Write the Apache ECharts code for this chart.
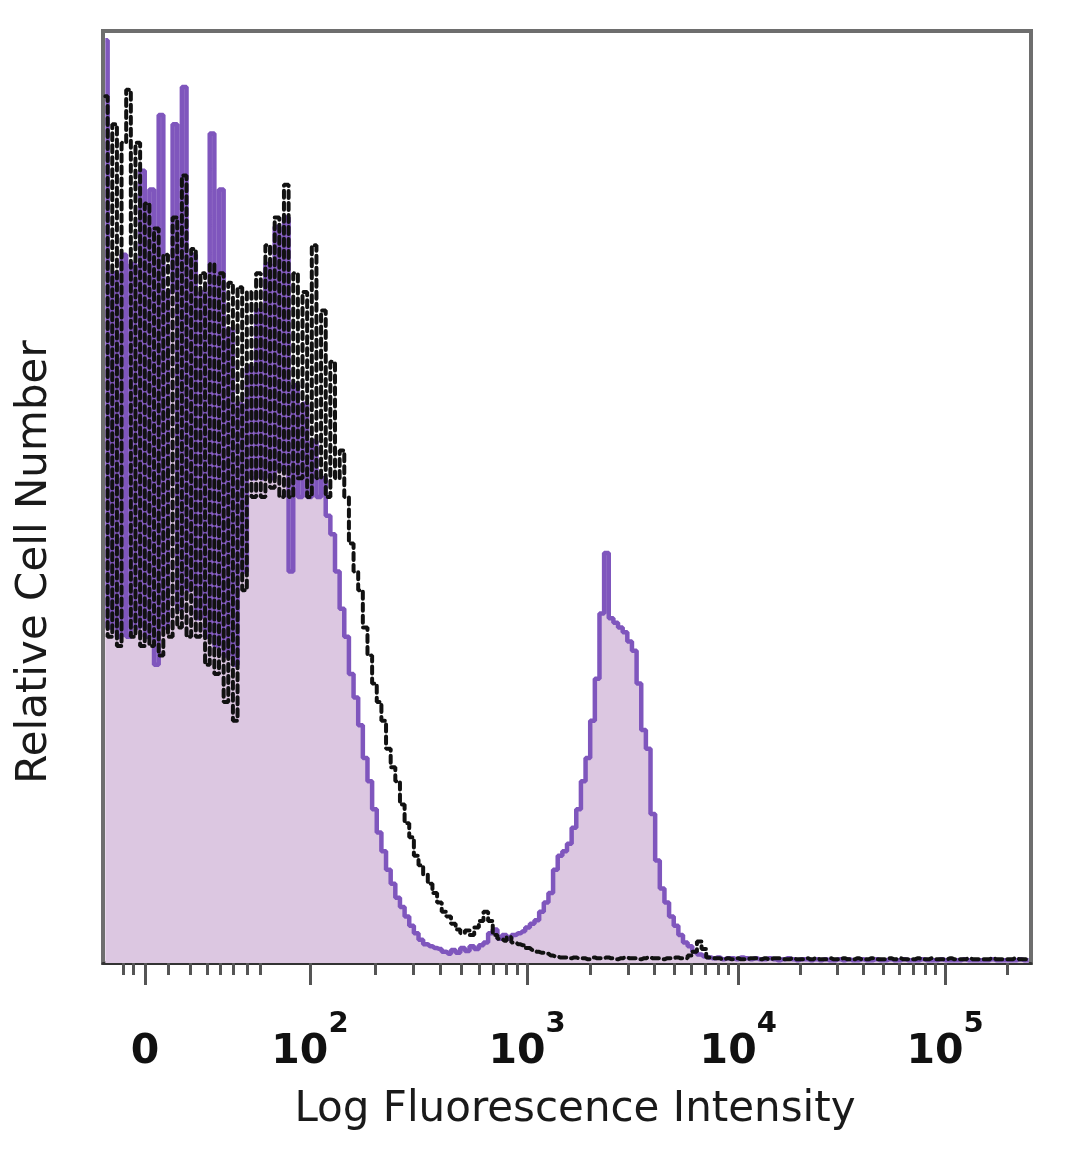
<!DOCTYPE html>
<html><head><meta charset="utf-8">
<script src="https://cdn.jsdelivr.net/npm/echarts@6/dist/echarts.min.js"></script>
<style>html,body{margin:0;padding:0;background:#fff}#c{width:1080px;height:1169px}</style>
</head><body><div id="c"></div>
<script>
// Histogram channels (display bins across the biexponential axis)
const binCount = 200;

// Stained sample (filled purple histogram), relative cell number per bin
const sampleCounts = [
  99,36,74,35,76,35,75,36,85,35,
  83,32,91,36,72,90,38,94,40,76,
  37,72,35,89,34,83,33,68,32,60,
  42,64,52,70,52,75,52,79,53,80,
  42,62,50,60,50,56,50,52,48,46,
  42,38,35,31,28.5,25.5,22,19.5,16.5,14,
  12,10,8.5,7,6,5,4,3.2,2.5,2,
  1.8,1.6,1.5,1.2,1.0,1.4,1.1,1.6,1.3,1.8,
  1.5,1.9,2.2,3.2,3.6,2.6,3.0,2.6,3.0,3.2,
  3.4,3.8,4.2,4.6,5.5,6.5,7.5,10,11.5,12,
  12.8,14.5,16.5,19.5,22,26,30.5,37.5,44,37,
  36.5,36,35.5,34.5,33.5,30,25,23,16,11,
  8,6.5,5,4,3,2.2,1.8,1.2,0.9,0.7,
  0.6,0.5,0.6,0.4,0.5,0.5,0.4,0.6,0.5,0.4,
  0.5,0.4,0.4,0.5,0.4,0.3,0.4,0.5,0.4,0.3,
  0.4,0.4,0.3,0.4,0.3,0.4,0.3,0.3,0.4,0.3,
  0.4,0.3,0.3,0.4,0.3,0.3,0.4,0.3,0.3,0.4,
  0.3,0.3,0.4,0.3,0.3,0.3,0.4,0.3,0.3,0.3,
  0.4,0.3,0.3,0.3,0.3,0.4,0.3,0.3,0.3,0.3,
  0.3,0.4,0.3,0.3,0.3,0.3,0.3,0.4,0.3,0.3
];

// Isotype control (black dashed histogram)
const controlCounts = [
  93,35,90,34,88,93.7,35,88,34,81.5,
  34,78.8,33,76,35,80,36,84.5,35,76.6,
  35,74,32,75,31,74,28,73,26,72.5,
  40,72,50,74,50,77,51,80,50,83.5,
  50,74,52,72,50,77,52,70,50,64.5,
  52,55,50,45,42,40,36,33,30,28,
  26,23,21,19.5,17,15,13.5,11.5,10.5,9.5,
  8.5,7.5,6.5,5.5,5,4.2,3.6,3.2,3.5,3.0,
  3.8,4.5,5.5,4.5,3.0,2.6,2.4,2.8,2.2,2,
  1.9,1.6,1.4,1.2,1.1,1.0,0.8,0.7,0.6,0.6,
  0.5,0.6,0.5,0.5,0.4,0.6,0.5,0.5,0.6,0.5,
  0.4,0.5,0.6,0.5,0.5,0.4,0.5,0.6,0.5,0.5,
  0.4,0.5,0.5,0.6,0.5,0.5,0.8,1.2,2.3,1.5,
  0.6,0.5,0.5,0.4,0.5,0.4,0.5,0.4,0.4,0.5,
  0.5,0.4,0.5,0.4,0.5,0.5,0.4,0.4,0.5,0.4,
  0.4,0.5,0.4,0.5,0.4,0.4,0.5,0.4,0.4,0.5,
  0.4,0.4,0.5,0.4,0.4,0.5,0.4,0.4,0.4,0.5,
  0.4,0.5,0.4,0.4,0.4,0.5,0.4,0.4,0.5,0.4,
  0.4,0.4,0.5,0.4,0.4,0.4,0.5,0.4,0.4,0.4,
  0.4,0.5,0.4,0.4,0.4,0.4,0.5,0.4,0.4,0.4
];

// Axis ticks (positions in bin units on the display scale)
const majorTickPos = [9.05, 44.6, 91.4, 136.9, 181.5];
const majorTickBase = ['0', '10', '10', '10', '10'];
const majorTickExp = ['', '2', '3', '4', '5'];
const linearMinorTicks = [4.3, 6.5, 14.0, 18.75, 22.4, 25.2, 28.0, 31.0, 33.8];

const xTitle = 'Log Fluorescence Intensity';
const yTitle = 'Relative Cell Number';

// log-spaced minor ticks between the decade ticks
const minorTicks = linearMinorTicks.slice();
for (let k = 1; k < majorTickPos.length; k++) {
  const a = majorTickPos[k], span = k < majorTickPos.length - 1 ? majorTickPos[k + 1] - a : majorTickPos[k] - majorTickPos[k - 1];
  for (let m = 2; m <= 9; m++) {
    const p = a + span * Math.log10(m);
    if (p < binCount) minorTicks.push(+p.toFixed(2));
  }
}

const sData = sampleCounts.map((v, i) => [i + 0.5, v]);
const cData = controlCounts.map((v, i) => [i + 0.5, v]);

const chart = echarts.init(document.getElementById('c'), null, {renderer: 'canvas'});
const FONT = 'DejaVu Sans';
chart.setOption({
  animation: false,
  backgroundColor: '#fff',
  grid: {left: 103, top: 31, right: 49, bottom: 206, show: true, borderColor: '#6e6e6e', borderWidth: 4, backgroundColor: 'transparent'},
  xAxis: [{
    type: 'value', min: 0, max: binCount,
    axisLine: {show: true, lineStyle: {color: '#333', width: 3}},
    splitLine: {show: false},
    axisTick: {show: true, customValues: majorTickPos, length: 22, lineStyle: {color: '#555', width: 3}},
    axisLabel: {
      show: true, customValues: majorTickPos, margin: 47,
      formatter: function (val) {
        let idx = 0, best = 1e9;
        majorTickPos.forEach((p, i) => { const d = Math.abs(p - val); if (d < best) { best = d; idx = i; } });
        if (!majorTickExp[idx]) return '{b|' + majorTickBase[idx] + '}';
        return '{b|' + majorTickBase[idx] + '}{s|' + majorTickExp[idx] + '}';
      },
      rich: {
        b: {fontFamily: FONT, fontWeight: 'bold', fontSize: 41, lineHeight: 63, verticalAlign: 'bottom', color: '#111'},
        s: {fontFamily: FONT, fontWeight: 'bold', fontSize: 29, lineHeight: 30, verticalAlign: 'top', color: '#111'}
      }
    },
    name: xTitle, nameLocation: 'middle', nameGap: 126,
    nameTextStyle: {fontFamily: FONT, fontSize: 42, lineHeight: 42, color: '#1a1a1a', padding: [0, 0, 0, 16]}
  }, {
    type: 'value', min: 0, max: binCount, position: 'bottom',
    axisLine: {show: false}, splitLine: {show: false},
    axisTick: {show: true, customValues: minorTicks, length: 12, lineStyle: {color: '#555', width: 3}},
    axisLabel: {show: false}
  }],
  yAxis: {
    type: 'value', min: 0, max: 100,
    axisLine: {show: false}, axisTick: {show: false}, axisLabel: {show: false}, splitLine: {show: false},
    name: yTitle, nameLocation: 'middle', nameGap: 47, nameRotate: 90,
    nameTextStyle: {fontFamily: FONT, fontSize: 42, lineHeight: 42, color: '#1a1a1a', padding: [0, 130, 0, 0]}
  },
  series: [{
    type: 'line', name: 'Sample', data: sData, step: 'middle', symbol: 'none', xAxisIndex: 0,
    lineStyle: {color: '#7f56bd', width: 4.5},
    areaStyle: {color: '#dcc7e1', opacity: 1},
    z: 2
  }, {
    type: 'line', name: 'Control', data: cData, step: 'middle', symbol: 'none', xAxisIndex: 0,
    lineStyle: {color: '#111', width: 4, type: [7, 5], cap: 'round'},
    z: 3
  }]
});
</script></body></html>
